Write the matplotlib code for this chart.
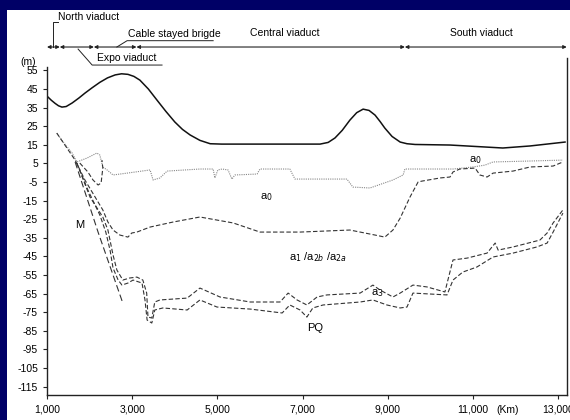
import matplotlib.pyplot as plt
from matplotlib.patches import Rectangle

# chainage (m) and levels (m)
deck_x = [1000, 1100, 1190, 1270, 1350, 1450, 1590, 1750, 1890, 2060, 2240, 2420, 2600, 2750, 2900,
          3040, 3180, 3380, 3580, 3790, 4000, 4180, 4360, 4590, 4830, 5100,
          7410, 7600, 7760, 7930, 8110, 8270, 8420, 8560, 8700, 8820, 8930, 9100, 9290, 9450, 9640,
          10460, 11700, 12340, 13160]
deck_y = [41.2, 39.0, 37.3, 36.0, 35.3, 35.6, 37.5, 40.2, 42.8, 45.7, 48.6, 51.0, 52.6, 53.2, 52.9,
          51.8, 49.8, 45.0, 39.1, 33.0, 27.3, 23.3, 20.3, 17.4, 15.6, 15.4,
          15.4, 16.3, 18.7, 22.8, 28.3, 32.3, 34.2, 33.5, 31.0, 27.5, 24.0, 19.5, 16.5, 15.6, 15.2,
          14.9, 13.3, 14.4, 16.5]

a0_x = [1230, 1380, 1590, 1700, 1940, 2170, 2240, 2310, 2410, 2550, 2880, 3420, 3490, 3650, 3820,
        4590, 4900, 4940, 5010, 5110, 5250, 5340, 5410, 5930, 6000, 6700, 6820, 8040, 8180, 8580,
        9120, 9360, 9400, 10530, 11000, 11280, 11470, 12340, 13110]
a0_y = [21.3, 16.5, 10.6, 5.8, 7.9, 10.6, 9.5, 3.1, 1.5, -1.2, -0.2, 1.5, -3.9, -2.8, 0.9,
        2.0, 2.0, -2.8, 1.5, 2.0, 1.5, -3.4, -1.2, -0.7, 2.0, 2.0, -3.4, -3.4, -7.7, -8.2,
        -3.9, -1.2, 2.0, 2.0, 3.1, 4.1, 5.8, 6.3, 6.8]

a1_x = [1230, 1420, 1660, 1890, 2130, 2310, 2430, 2550, 2710, 2900, 2990, 3110, 3420, 3960, 4590,
        5370, 6000, 6940, 8110, 8700, 8930, 9120, 9290, 9520, 9710, 9800, 10230, 10460, 10530,
        10690, 11050, 11160, 11330, 11470, 11940, 12340, 12880, 13110]
a1_y = [21.3, 14.9, 6.8, -3.9, -13.1, -20.0, -26.5, -30.8, -33.5, -34.6, -32.4, -31.9, -29.2, -26.5, -23.8,
        -27.0, -31.9, -31.9, -30.8, -33.5, -34.6, -30.8, -24.4, -13.1, -5.0, -4.5, -2.8, -2.3, 0.4,
        2.0, 2.5, -1.2, -2.3, -0.2, 0.9, 3.1, 3.6, 5.8]

a2_x = [1770, 1960, 2080, 2200, 2270, 2310, 2290]
a2_y = [5.2, 0.4, -3.9, -6.6, -5.5, 2.5, 6.8]

m_x = [1660, 2200, 2780]
m_y = [5.8, -32.0, -70.1]

a3_x = [1700, 2010, 2310, 2430, 2550, 2640, 2780, 2940, 3110, 3250, 3340, 3370, 3460, 3530, 3650,
        4290, 4590, 5060, 5770, 6470, 6660, 6870, 7100, 7340, 7570, 8350, 8650, 8820, 9120, 9290,
        9590, 9920, 10340, 10410, 10530, 10860, 11330, 11520, 11590, 11940, 12570, 12740, 12880, 13110]
a3_y = [5.2, -13.1, -23.8, -30.8, -44.2, -52.3, -57.7, -56.6, -56.1, -57.7, -64.7, -77.6, -78.1, -69.5, -68.4,
        -67.4, -62.0, -66.8, -69.5, -69.5, -64.7, -68.4, -71.1, -66.8, -65.7, -64.7, -60.4, -63.1, -66.8, -64.7,
        -60.4, -61.4, -64.1, -57.7, -46.9, -45.9, -43.2, -37.8, -41.6, -39.9, -36.2, -32.4, -27.0, -20.0]

pq_x = [1700, 1960, 2240, 2380, 2480, 2550, 2670, 2760, 2900, 3020, 3230, 3300, 3350, 3460, 3530,
        3720, 4290, 4590, 4990, 5770, 6520, 6700, 6940, 7100, 7240, 7480, 8350, 8650, 8980, 9290,
        9450, 9590, 10390, 10530, 10760, 11090, 11470, 11940, 12500, 12740, 12880, 13110]
pq_y = [5.2, -9.3, -22.7, -31.9, -41.6, -51.2, -57.7, -60.4, -59.3, -57.7, -59.3, -68.4, -79.2, -80.8, -73.8,
        -72.7, -73.8, -68.4, -72.2, -73.3, -75.4, -71.1, -73.8, -77.6, -72.7, -71.1, -69.5, -68.4, -71.1, -72.7,
        -72.2, -64.7, -65.7, -57.7, -53.4, -50.7, -45.3, -43.2, -39.9, -37.8, -31.9, -21.7]

sections = [1000, 1300, 2100, 3100, 9400, 13200]
y_ticks = [55, 45, 35, 25, 15, 5, -5, -15, -25, -35, -45, -55, -65, -75, -85, -95, -105, -115]
x_ticks = [1000, 3000, 5000, 7000, 9000, 11000, 13000]
x_labels = ['1,000', '3,000', '5,000', '7,000', '9,000', '11,000', '13,000']

plt.rcParams['font.family'] = ['Liberation Sans Narrow', 'Liberation Sans', 'DejaVu Sans']

fig = plt.figure(figsize=(5.7, 4.2), dpi=100, facecolor='#000066')
fig.patches.append(Rectangle((7 / 570, 0), 563 / 570, 410 / 420, transform=fig.transFigure,
                             facecolor='white', edgecolor='none', zorder=-10))
ax = fig.add_axes([47 / 570, 25 / 420, 520 / 570, 385 / 420])
ax.set_facecolor('none')

ax.plot(deck_x, deck_y, color='#111111', lw=1.1)
ax.plot(a0_x, a0_y, color='#888888', lw=0.8, ls=(0, (1, 1)))
ax.plot(a1_x, a1_y, color='#333333', lw=0.8, ls=(0, (4, 2)))
ax.plot(a2_x, a2_y, color='#333333', lw=0.8, ls=(0, (4, 2)))
ax.plot(m_x, m_y, color='#333333', lw=0.8, ls=(0, (6, 3)))
ax.plot(a3_x, a3_y, color='#333333', lw=0.8, ls=(0, (4, 2)))
ax.plot(pq_x, pq_y, color='#333333', lw=0.8, ls=(0, (4, 2)))

ax.set_xlim(1000, 13206)
ax.set_ylim(-119.5, 87.5)
ax.spines['top'].set_visible(False)
ax.spines['left'].set_bounds(-119.5, 56.8)
ax.spines['right'].set_bounds(-119.5, 61.7)
for s in ['left', 'right', 'bottom']:
    ax.spines[s].set_linewidth(1.0)
    ax.spines[s].set_color('#222222')
ax.set_yticks(y_ticks)
ax.set_yticklabels([str(t) for t in y_ticks])
ax.set_xticks(x_ticks)
ax.set_xticklabels(x_labels)
ax.tick_params(axis='both', labelsize=7.5, length=3, width=0.8, color='#222222')
ax.tick_params(axis='x', pad=4)

# section arrows along the top
for a, b in zip(sections[:-1], sections[1:]):
    ax.annotate('', xy=(b, 67.6), xytext=(a, 67.6),
                arrowprops=dict(arrowstyle='<|-|>', lw=0.8, color='#222222',
                                mutation_scale=5, shrinkA=0, shrinkB=0))

ax.plot([1140, 1140, 1260], [67.6, 81.0, 81.0], color='#222222', lw=0.7)
ax.text(1260, 83.7, 'North viaduct', fontsize=7.5, va='center', ha='left')
ax.plot([1730, 2060, 3700], [66.5, 57.9, 57.9], color='#222222', lw=0.7)
ax.text(2170, 61.5, 'Expo viaduct', fontsize=7.5, va='center', ha='left')
ax.plot([2640, 2880, 4900], [67.6, 71.0, 71.0], color='#222222', lw=0.7)
ax.text(2900, 74.8, 'Cable stayed brigde', fontsize=7.5, va='center', ha='left')
ax.text(5770, 75.1, 'Central viaduct', fontsize=7.5, va='center', ha='left')
ax.text(10460, 75.1, 'South viaduct', fontsize=7.5, va='center', ha='left')

ax.text(554, 59.5, '(m)', fontsize=7.5, ha='center', va='center')
ax.text(11820, -127.6, '(Km)', fontsize=7.5, ha='center', va='center', clip_on=False)

ax.text(1770, -28.1, 'M', fontsize=8, ha='center', va='center')
ax.text(6160, -13.1, r'a$_0$', fontsize=8, ha='center', va='center')
ax.text(11050, 6.8, r'a$_0$', fontsize=8, ha='center', va='center')
ax.text(7360, -45.3, r'a$_1$ /a$_{2b}$ /a$_{2a}$', fontsize=8, ha='center', va='center')
ax.text(8750, -64.7, r'a$_3$', fontsize=8, ha='center', va='center')
ax.text(7290, -83.5, 'PQ', fontsize=8, ha='center', va='center')

fig.savefig('out.png', dpi=100, facecolor=fig.get_facecolor())
